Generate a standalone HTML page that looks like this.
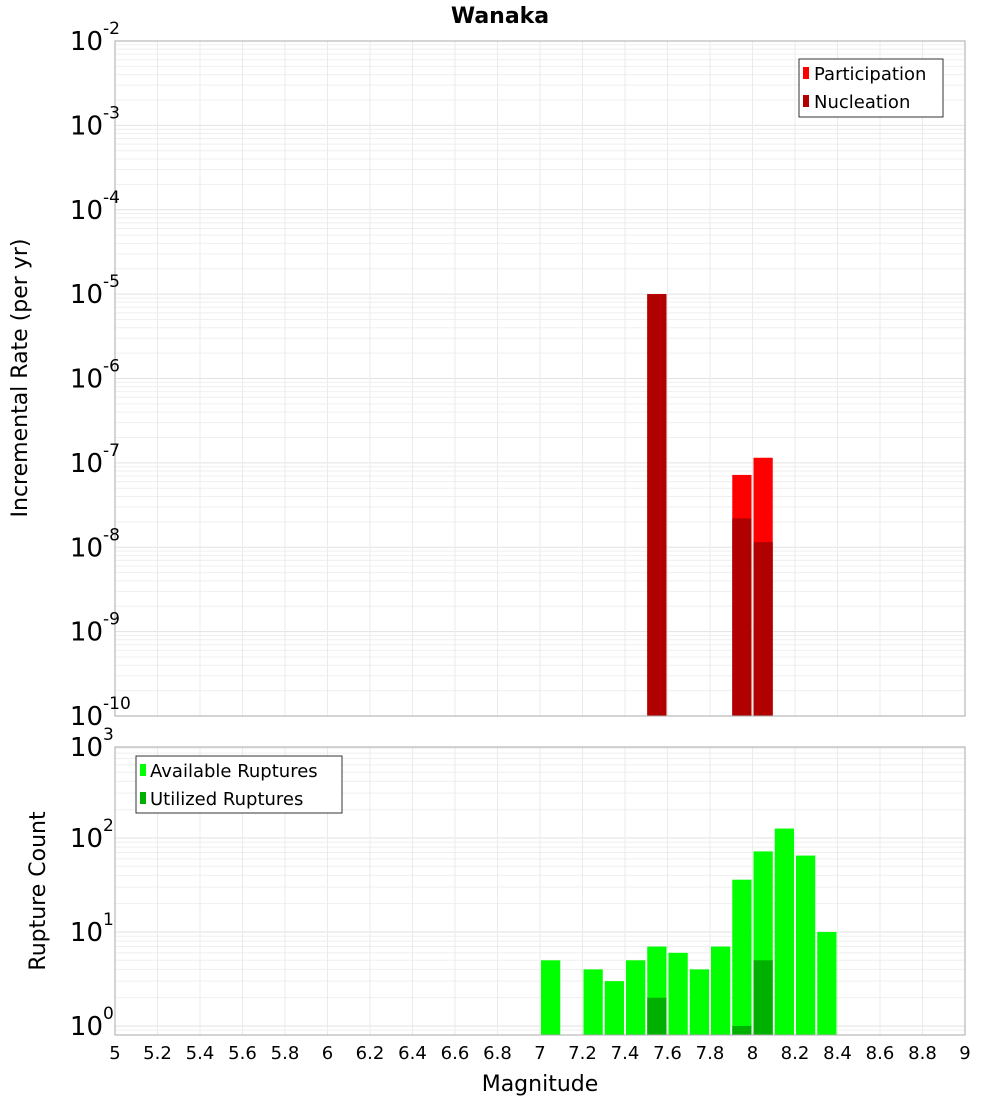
<!DOCTYPE html>
<html><head><meta charset="utf-8"><style>
body{margin:0;background:#fff;font-family:"DejaVu Sans","Liberation Sans",sans-serif}
svg text{font-family:"DejaVu Sans","Liberation Sans",sans-serif}
</style></head><body>
<svg id="c" width="1000" height="1100" xmlns="http://www.w3.org/2000/svg">
<text x="500" y="23" text-anchor="middle" font-size="22" font-weight="bold">Wanaka</text>
<g id="topg"></g>
<g id="botg"></g>
<g id="axes"></g>
<text transform="translate(27,378) rotate(-90)" text-anchor="middle" font-size="22">Incremental Rate (per yr)</text>
<text transform="translate(45,891) rotate(-90)" text-anchor="middle" font-size="22">Rupture Count</text>
<text x="540" y="1091" text-anchor="middle" font-size="22">Magnitude</text>
<g>
<rect x="799" y="59" width="144" height="58" fill="#fff" stroke="#333"/>
<rect x="803" y="67" width="6" height="12" fill="#ff0000"/>
<text x="814" y="80" font-size="18">Participation</text>
<rect x="803" y="95" width="6" height="12" fill="#b00000"/>
<text x="814" y="108" font-size="18">Nucleation</text>
</g>
<g>
<rect x="136" y="756" width="206" height="57" fill="#fff" stroke="#333"/>
<rect x="140" y="764" width="6" height="12" fill="#00ff00"/>
<text x="150" y="777" font-size="18">Available Ruptures</text>
<rect x="140" y="792" width="6" height="12" fill="#00b000"/>
<text x="150" y="805" font-size="18">Utilized Ruptures</text>
</g>
</svg>
<script>
const rateMags=[7.55,7.95,8.05];
const participation=[1e-5,7.2e-8,1.15e-7];
const nucleation=[1e-5,2.2e-8,1.15e-8];
const countMags=[7.05,7.25,7.35,7.45,7.55,7.65,7.75,7.85,7.95,8.05,8.15,8.25,8.35];
const available=[5,4,3,5,7,6,4,7,36,72,126,65,10];
const utilMags=[7.55,7.95,8.05];
const utilized=[2,1,5];
const xTicks=[5,5.2,5.4,5.6,5.8,6,6.2,6.4,6.6,6.8,7,7.2,7.4,7.6,7.8,8,8.2,8.4,8.6,8.8,9];
const rateExps=[-10,-9,-8,-7,-6,-5,-4,-3,-2];
const countExps=[0,1,2,3];
const NS='http://www.w3.org/2000/svg';
const X0=115,X1=965;
const x=m=>X0+(m-5)/4*(X1-X0);
const T0=41,T1=716;
const yT=v=>T1-(Math.log10(v)+10)/8*(T1-T0);
const B0=747,B1=1035,lo=-0.096,hi=2.968;
const yB=v=>B1-(Math.log10(v)-lo)/(hi-lo)*(B1-B0);
function el(p,t,a){const e=document.createElementNS(NS,t);for(const k in a)e.setAttribute(k,a[k]);p.appendChild(e);return e;}
const topG=document.getElementById('topg'),botG=document.getElementById('botg'),axG=document.getElementById('axes');
function grid(g,y0,y1,yf,elo,ehi){
 for(let e=Math.floor(elo);e<ehi;e++)for(let k=1;k<10;k++){const v=k*Math.pow(10,e);const yy=yf(v);if(yy<y0||yy>y1)continue;
  const l=el(g,'line',{x1:X0,x2:X1,y1:yy,y2:yy,stroke:k==1?'#e2e2e2':'#efefef','stroke-width':1});
  
  }
 xTicks.forEach(t=>{const l=el(g,'line',{x1:x(t),x2:x(t),y1:y0,y2:y1,stroke:'#ebebeb'});
  
  });
}
grid(topG,T0,T1,yT,-10,-2);
grid(botG,B0,B1,yB,-1,3);
function bar(g,m,v,yf,base,fill,name){const y=yf(v);const r=el(g,'rect',{x:x(m-0.05)+1,y:y,width:(X1-X0)*0.1/4-2,height:base-y,fill:fill});
 
 }
rateMags.forEach((m,i)=>bar(topG,m,participation[i],yT,T1,'#ff0000','participation-bar'));
rateMags.forEach((m,i)=>bar(topG,m,nucleation[i],yT,T1,'#b00000','nucleation-bar'));
countMags.forEach((m,i)=>bar(botG,m,available[i],yB,B1,'#00ff00','available-bar'));
utilMags.forEach((m,i)=>bar(botG,m,utilized[i],yB,B1,'#00b000','utilized-bar'));
[[T0,T1],[B0,B1]].forEach(([a,b])=>{const r=el(axG,'rect',{x:X0,y:a,width:X1-X0,height:b-a,fill:'none',stroke:'#aaa'});
 
 });
function ylab(e,yy){const t=el(axG,'text',{x:103,y:yy+9,'text-anchor':'end','font-size':26});
 
 
 t.textContent='10';
 const s=el(axG,'text',{x:103,y:yy-7,'font-size':17});s.textContent=String(e);
 
 }
rateExps.forEach(e=>ylab(e,yT(Math.pow(10,e))));
countExps.forEach(e=>ylab(e,Math.max(yB(Math.pow(10,e)),B0)));
xTicks.forEach(t=>{const l=el(axG,'text',{x:x(t),y:1059,'text-anchor':'middle','font-size':18});l.textContent=String(t);
 
 });
</script>
</body></html>
